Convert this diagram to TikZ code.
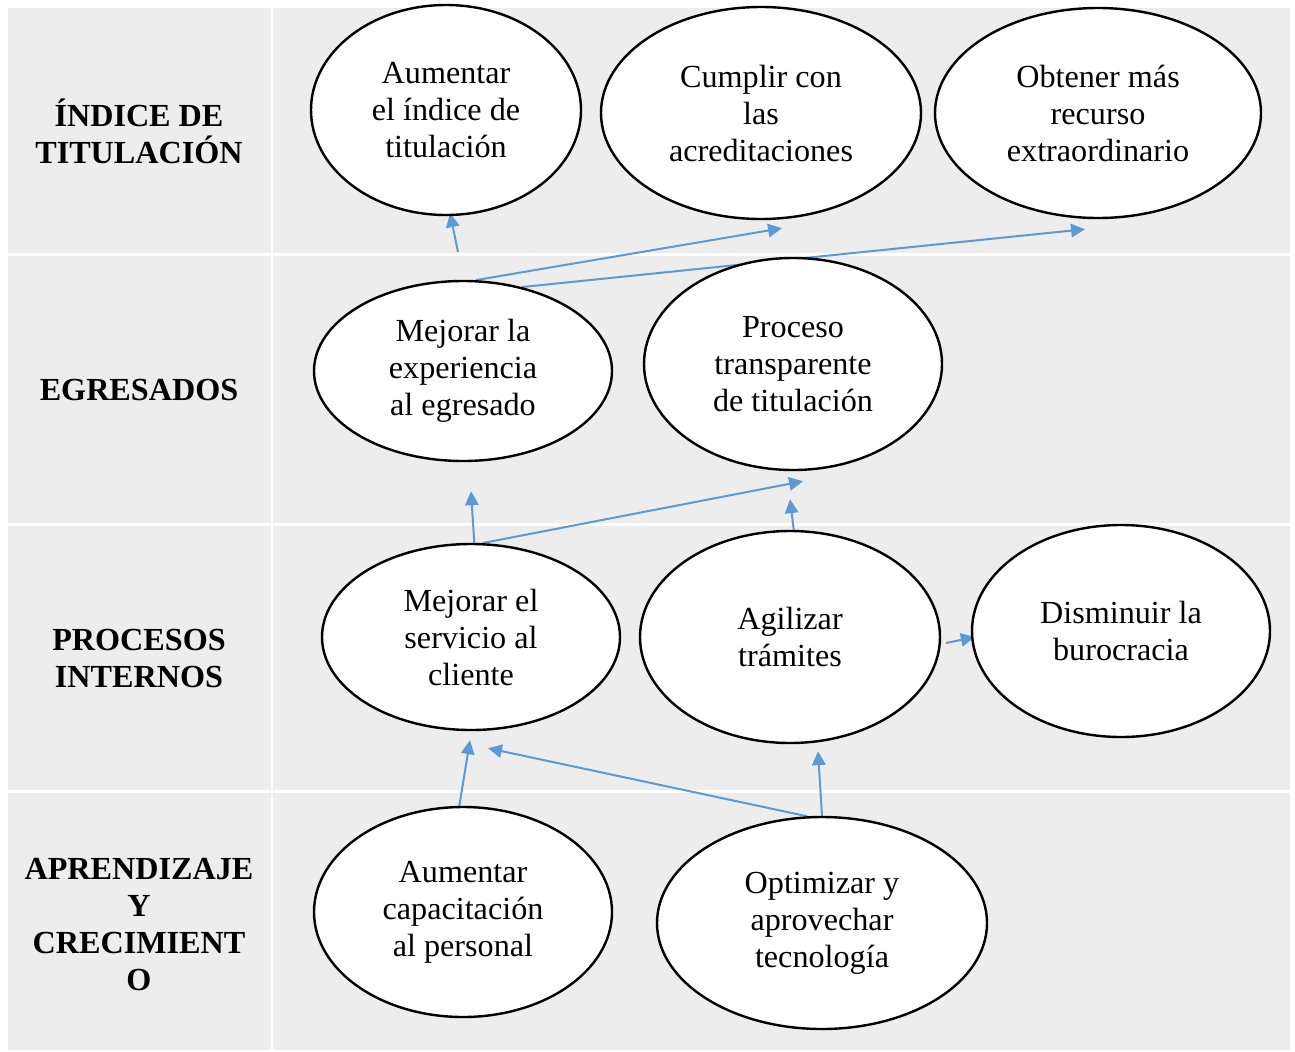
\documentclass[tikz,border=0pt]{standalone}
\usepackage{fontspec}
\setmainfont{Liberation Serif}
\usetikzlibrary{shapes.geometric,arrows.meta}
\definecolor{cellgrey}{HTML}{EDEDED}
\definecolor{linkblue}{HTML}{5B9BD5}
\pgfdeclarelayer{back}
\pgfdeclarelayer{links}
\pgfsetlayers{back,links,main}

\begin{document}
\begin{tikzpicture}[
            x=0.373pt, y=-0.373pt,
            every node/.style={font=\fontsize{12}{13.8}\selectfont, align=center},
            goal/.style 2 args={draw, ellipse, fill=white, line width=0.9pt, inner sep=0pt,
                minimum width=#1*0.746pt, minimum height=#2*0.746pt},
            persp/.style={font=\fontsize{12}{13.8}\selectfont\bfseries},
            link/.style={draw=linkblue, line width=0.75pt, -{Triangle[length=5.2pt,width=5pt]}}
            ]
        \useasboundingbox (0,0) rectangle (1295,1051);
        \begin{pgfonlayer}{back}
            \foreach \ya/\yb in {8/253,256/523,526/790,793/1050} {
                \fill[cellgrey] (8,\ya) rectangle (271,\yb);
                \fill[cellgrey] (273,\ya) rectangle (1290,\yb);
            }
        \end{pgfonlayer}

        \node[persp] (p1) at (139,131) {ÍNDICE DE\\TITULACIÓN};
        \node[persp] (p2) at (139,390) {EGRESADOS};
        \node[persp] (p3) at (139,658) {PROCESOS\\INTERNOS};
        \node[persp] (p4) at (139,925) {APRENDIZAJE\\Y\\CRECIMIENT\\O};

        \node[goal={135}{105}] (e1) at (446,110) {Aumentar\\el índice de\\titulación};
        \node[goal={160}{106}] (e2) at (761,113) {Cumplir con\\las\\acreditaciones};
        \node[goal={163}{105}] (e3) at (1098,113) {Obtener más\\recurso\\extraordinario};
        \node[goal={149}{90}] (e4) at (463,371) {Mejorar la\\experiencia\\al egresado};
        \node[goal={149}{106}] (e5) at (793,364) {Proceso\\transparente\\de titulación};
        \node[goal={149}{93}] (e6) at (471,637) {Mejorar el\\servicio al\\cliente};
        \node[goal={150}{106}] (e7) at (790,637) {Agilizar\\trámites};
        \node[goal={149}{106}] (e8) at (1121,631) {Disminuir la\\burocracia};
        \node[goal={149}{105}] (e9) at (463,912) {Aumentar\\capacitación\\al personal};
        \node[goal={165}{106}] (e10) at (822,923) {Optimizar y\\aprovechar\\tecnología};

        \begin{pgfonlayer}{links}
            \coordinate (c1) at (458,252);
            \draw[link] (c1) -- ([shift={(4,-3)}]e1.south);
            \draw[link] (e4.82) -- ([shift={(21,8)}]e2.south);
            \draw[link] (e4.55) -- ([shift={(-13,10)}]e3.south);
            \draw[link] (e6.88) -- ([shift={(8,29)}]e4.south);
            \draw[link] (e6.83) -- ([shift={(10,10)}]e5.south);
            \draw[link] (e7.88) -- ([shift={(-3,28)}]e5.south);
            \draw[link] ([shift={(5,6)}]e7.east) -- ([shift={(4,6)}]e8.west);
            \draw[link] (e9.92) -- ([shift={(-1,9)}]e6.south);
            \draw[link] (e10.98) -- ([shift={(17,17)}]e6.south);
            \draw[link] (e10.90) -- ([shift={(28,7)}]e7.south);
        \end{pgfonlayer}
\end{tikzpicture}
\end{document}
